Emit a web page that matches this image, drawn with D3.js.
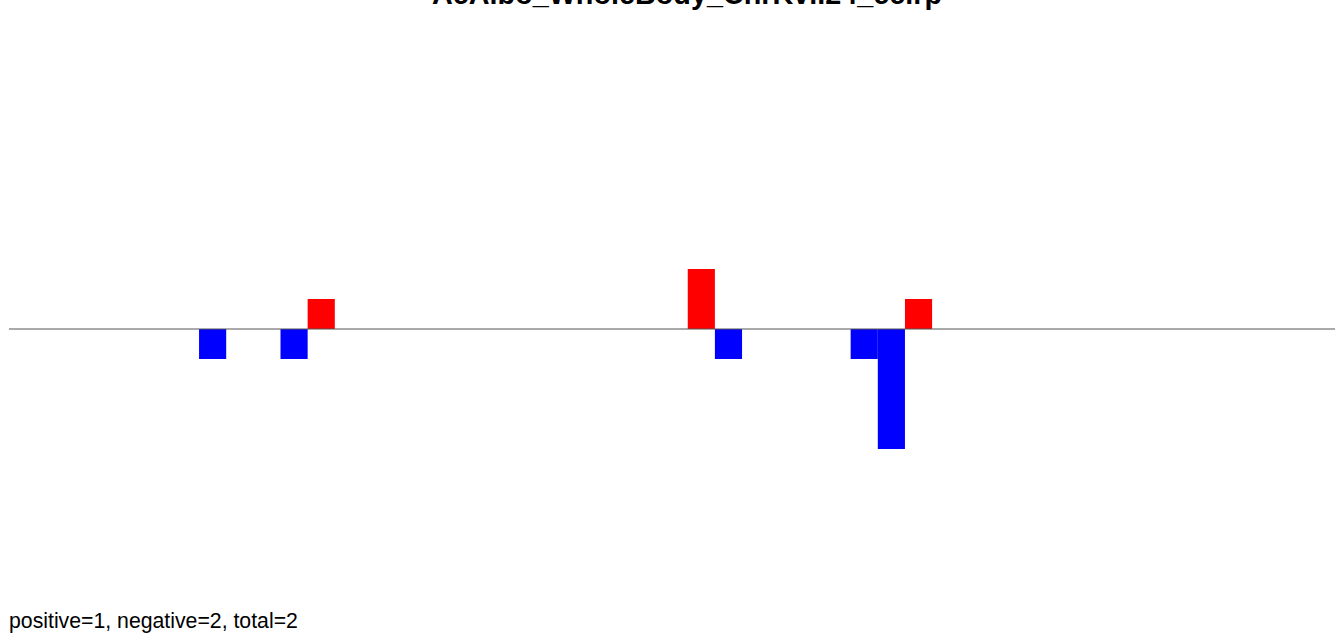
<!DOCTYPE html>
<html>
<head>
<meta charset="utf-8">
<script src="https://cdn.jsdelivr.net/npm/d3@7"></script>
<style>
html,body{margin:0;padding:0;background:#fff;overflow:hidden;}
svg{display:block;}
</style>
</head>
<body>
<svg id="chart" width="1335" height="634"></svg>
<script>
const titleText = "AcAlbo_WholeBody_ChrKvi.24_cclrp";
const footerText = "positive=1, negative=2, total=2";
const binCount = 49;
const positiveBins = [11, 25, 33];
const positiveValues = [1, 2, 1];
const negativeBins = [7, 10, 26, 31, 32];
const negativeValues = [-1, -1, -1, -1, -4];

const svg = d3.select("#chart");
const x = d3.scaleBand().domain(d3.range(binCount)).range([9, 9 + 27.15 * binCount]).padding(0);
const y = d3.scaleLinear().domain([-8, 8]).range([569, 89]);

const posData = positiveBins.map((b, i) => ({bin: b, v: positiveValues[i]}));
const negData = negativeBins.map((b, i) => ({bin: b, v: negativeValues[i]}));

svg.append("g").selectAll("rect").data(posData).join("rect")
  .attr("x", d => x(d.bin)).attr("width", x.bandwidth())
  .attr("y", d => y(d.v)).attr("height", d => y(0) - y(d.v))
  .attr("fill", "#ff0000");
svg.append("g").selectAll("rect").data(negData).join("rect")
  .attr("x", d => x(d.bin)).attr("width", x.bandwidth())
  .attr("y", y(0)).attr("height", d => y(d.v) - y(0))
  .attr("fill", "#0000ff");

svg.append("line")
  .attr("x1", 9).attr("x2", 1335)
  .attr("y1", y(0)).attr("y2", y(0))
  .attr("stroke", "#555").attr("stroke-width", 1);

const t = svg.append("text").text(titleText)
  .attr("x", 687).attr("y", 4)
  .attr("text-anchor", "middle")
  .attr("font-family", "Liberation Sans, Arial, sans-serif")
  .attr("font-weight", "bold").attr("font-size", 20).attr("fill", "#000");
const tw = t.node().getComputedTextLength();
t.attr("font-size", 20 * 510 / tw);

const f = svg.append("text").text(footerText)
  .attr("x", 9).attr("y", 628)
  .attr("font-family", "Liberation Sans, Arial, sans-serif")
  .attr("font-size", 16).attr("fill", "#000");
const fw = f.node().getComputedTextLength();
f.attr("font-size", 16 * 289 / fw);
</script>
</body>
</html>
